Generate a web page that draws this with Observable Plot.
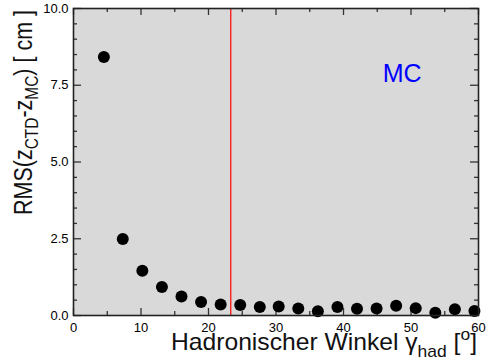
<!DOCTYPE html>
<html>
<head>
<meta charset="utf-8">
<script src="https://cdn.jsdelivr.net/npm/d3@7"></script>
<script src="https://cdn.jsdelivr.net/npm/@observablehq/plot@0.6"></script>
<style>
  html, body { margin: 0; padding: 0; background: #fff; }
  svg { display: block; }
</style>
</head>
<body>
<div id="chart"></div>
<script>
// ---- data ----
const angle = [4.5, 7.3, 10.2, 13.1, 16.0, 18.9, 21.8, 24.7, 27.6, 30.4, 33.3, 36.2, 39.1, 42.0, 44.9, 47.8, 50.7, 53.6, 56.5, 59.4];
const rms   = [8.42, 2.49, 1.46, 0.93, 0.62, 0.44, 0.36, 0.34, 0.28, 0.29, 0.23, 0.14, 0.28, 0.22, 0.23, 0.32, 0.24, 0.09, 0.20, 0.15];
const cutAngle = [23.3];
const xMajorTicks = [0, 10, 20, 30, 40, 50, 60];
const xMinorTicks = [5, 15, 25, 35, 45, 55];
const yMajorTicks = [0, 2.5, 5, 7.5, 10];
const yMinorTicks = [0.5, 1, 1.5, 2, 3, 3.5, 4, 4.5, 5.5, 6, 6.5, 7, 8, 8.5, 9, 9.5];
const sampleLabel = ["MC"];

const points = angle.map((a, i) => ({angle: a, rms: rms[i]}));

const W = 488, H = 363, mL = 73, mR = 10, mT = 8, mB = 48;
const innerW = W - mL - mR, innerH = H - mT - mB;
const font = "'Liberation Sans', Arial, Helvetica, sans-serif";

const svg = Plot.plot({
  width: W, height: H,
  marginLeft: mL, marginRight: mR, marginTop: mT, marginBottom: mB,
  style: {fontFamily: font, fontSize: "13px", color: "#000", background: "#fff"},
  x: {domain: [0, 60], axis: null},
  y: {domain: [0, 10], axis: null},
  marks: [
    Plot.frame({fill: "#d9d9d9", stroke: null}),
    // tick labels
    Plot.axisX({ticks: xMajorTicks, tickSize: 0, tickPadding: 7, tickFormat: d => String(d), label: null, fontSize: 13}),
    Plot.axisY({ticks: yMajorTicks, tickSize: 0, tickPadding: 5, tickFormat: d3.format(".1f"), label: null, fontSize: 13}),
    // inward ticks: bottom & top
    Plot.tickX(xMajorTicks, {x: d => d, insetTop: innerH - 7, stroke: "#333", strokeWidth: 1.3}),
    Plot.tickX(xMinorTicks, {x: d => d, insetTop: innerH - 4, stroke: "#333", strokeWidth: 1.3}),
    Plot.tickX(xMajorTicks, {x: d => d, insetBottom: innerH - 7, stroke: "#333", strokeWidth: 1.3}),
    Plot.tickX(xMinorTicks, {x: d => d, insetBottom: innerH - 4, stroke: "#333", strokeWidth: 1.3}),
    // inward ticks: left & right
    Plot.tickY(yMajorTicks, {y: d => d, insetRight: innerW - 8, stroke: "#333", strokeWidth: 1.3}),
    Plot.tickY(yMinorTicks, {y: d => d, insetRight: innerW - 4, stroke: "#333", strokeWidth: 1.3}),
    Plot.tickY(yMajorTicks, {y: d => d, insetLeft: innerW - 8, stroke: "#333", strokeWidth: 1.3}),
    Plot.tickY(yMinorTicks, {y: d => d, insetLeft: innerW - 4, stroke: "#333", strokeWidth: 1.3}),
    // cut line
    Plot.ruleX(cutAngle, {x: d => d, stroke: "#ff0000", strokeWidth: 1.2}),
    // data points
    Plot.dot(points, {x: "angle", y: "rms", r: 6, fill: "#000", stroke: null}),
    // MC label
    Plot.text(sampleLabel, {x: 48.7, y: 7.6, text: d => d, fill: "#0000ff", fontSize: 25, textAnchor: "middle", lineAnchor: "bottom"}),
    Plot.frame({stroke: "#222", strokeWidth: 1.6})
  ]
});

document.getElementById("chart").appendChild(svg);

// ---- axis titles with sub/superscripts ----
const s = d3.select(svg);

const xt = s.append("text")
  .attr("x", 477).attr("y", 350)
  .attr("text-anchor", "end")
  .attr("textLength", 306)
  .attr("lengthAdjust", "spacingAndGlyphs")
  .style("font-family", font)
  .style("font-size", "24px")
  .attr("fill", "#111");
xt.append("tspan").text("Hadronischer Winkel γ");
xt.append("tspan").attr("dy", 7).style("font-size", "17px").text("had");
xt.append("tspan").attr("dy", -7).text(" [");
xt.append("tspan").attr("dy", -10).style("font-size", "17px").text("o");
xt.append("tspan").attr("dy", 10).text("]");

const yt = s.append("text")
  .attr("transform", "translate(32,10) rotate(-90)")
  .attr("text-anchor", "end")
  .attr("textLength", 205)
  .attr("lengthAdjust", "spacingAndGlyphs")
  .style("font-family", font)
  .style("font-size", "25px")
  .attr("fill", "#111");
yt.append("tspan").text("RMS(z");
yt.append("tspan").attr("dy", 6).style("font-size", "18px").text("CTD");
yt.append("tspan").attr("dy", -6).text("-z");
yt.append("tspan").attr("dy", 6).style("font-size", "18px").text("MC");
yt.append("tspan").attr("dy", -6).text(") [ cm ]");
</script>
</body>
</html>
